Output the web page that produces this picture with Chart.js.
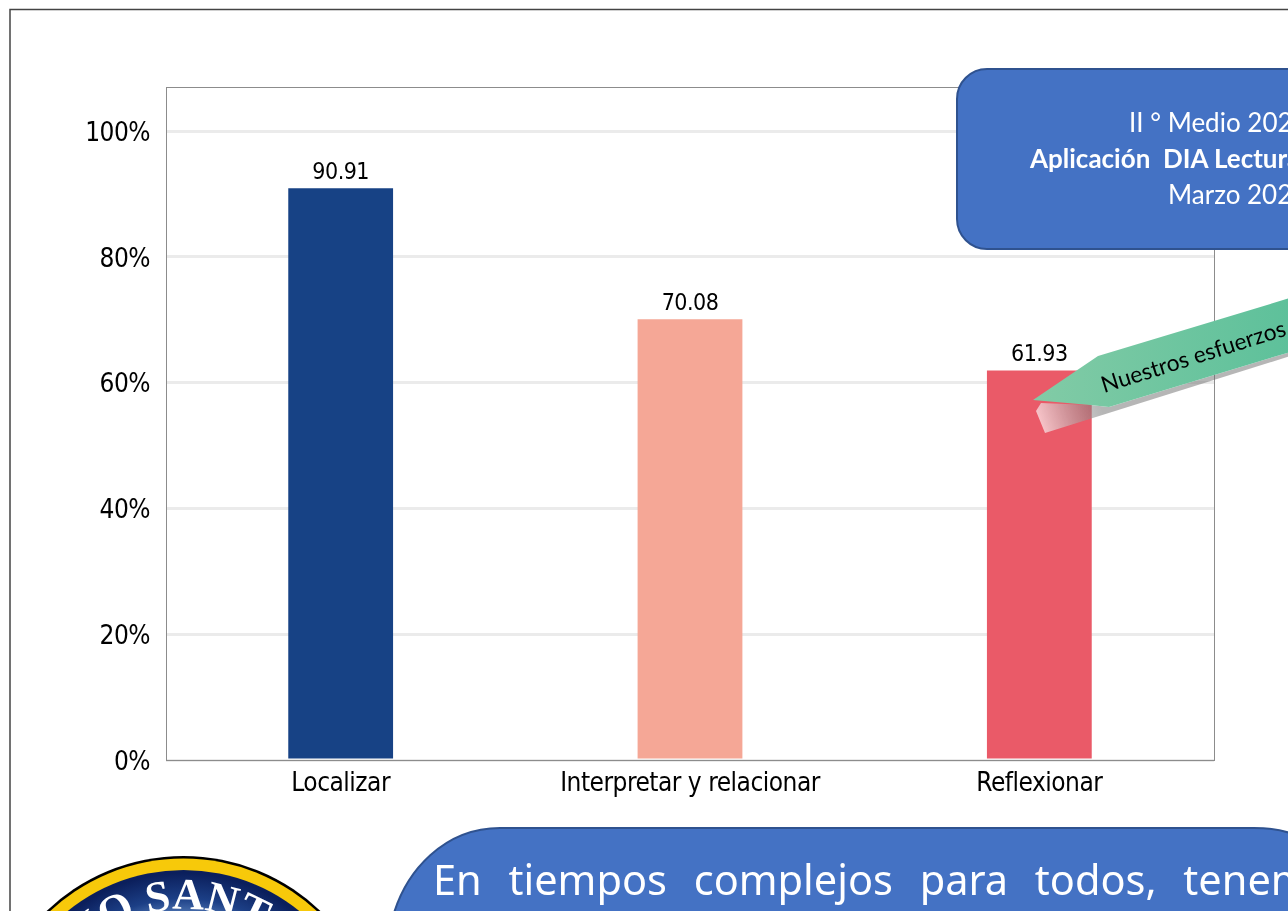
<!DOCTYPE html>
<html>
<head>
<meta charset="utf-8">
<title>Aplicación DIA Lectura</title>
<script src="https://cdn.jsdelivr.net/npm/chart.js@4"></script>
<style>
  html, body { margin: 0; padding: 0; background: #fff; overflow: hidden; }
  #stage { position: relative; width: 1288px; height: 911px; overflow: hidden; }
  #resultChart { position: absolute; left: 0; top: 0; }
  #overlay { position: absolute; left: 0; top: 0; }
</style>
</head>
<body>
<div id="stage">
  <canvas id="resultChart" width="1288" height="911"></canvas>

  <svg id="overlay" width="1288" height="911" xmlns="http://www.w3.org/2000/svg">
    <defs>
      <linearGradient id="arrowFill" x1="0" y1="0" x2="1" y2="0">
        <stop offset="0" stop-color="#82CBA6"/>
        <stop offset="1" stop-color="#5CC09A"/>
      </linearGradient>
      <linearGradient id="shadowFill" gradientUnits="userSpaceOnUse" x1="1040" y1="425" x2="1100" y2="405">
        <stop offset="0" stop-color="#ffffff" stop-opacity="0.65"/>
        <stop offset="1" stop-color="#6e6e6e" stop-opacity="0.5"/>
      </linearGradient>
      <radialGradient id="badgeFill" gradientUnits="userSpaceOnUse" cx="183.5" cy="1054" r="181">
        <stop offset="0.75" stop-color="#5b82bd"/>
        <stop offset="0.86" stop-color="#1c3f86"/>
        <stop offset="1" stop-color="#0b1f5c"/>
      </radialGradient>
      <path id="badgeArc" d="M 183.5 1199 A 145 145 0 0 1 183.5 909 A 145 145 0 0 1 183.5 1199"/>
    </defs>

    <!-- slide frame -->
    <path d="M 10 920 L 10 9.5 L 1295 9.5" fill="none" stroke="#444" stroke-width="1.5"/>

    <!-- header box -->
    <rect x="957" y="69" width="420" height="180" rx="30" ry="30" fill="#4472C4" stroke="#2F528F" stroke-width="2"/>
    <g font-family="Lato" font-size="26" fill="#fff">
      <text x="1129" y="132">II ° Medio 2021</text>
      <text x="1030" y="168" font-weight="bold" xml:space="preserve">Aplicación  DIA Lectura</text>
      <text x="1168" y="204">Marzo 2021</text>
    </g>

    <!-- arrow note -->
    <polygon points="1036,411 1045,433 1300,353 1300,349 1109,407 1090,405 1041,403" fill="url(#shadowFill)"/>
    <polygon points="1033,400 1098,356 1300,295 1300,349 1109,407 1090,405" fill="url(#arrowFill)"/>
    <text transform="translate(1104,393) rotate(-17.5)" font-family="Lato" font-size="22.8" fill="#000">Nuestros esfuerzos deben</text>

    <!-- school badge -->
    <circle cx="183.5" cy="1054" r="198" fill="#000"/>
    <circle cx="183.5" cy="1054" r="195.5" fill="#F7C90A"/>
    <circle cx="183.5" cy="1054" r="184" fill="url(#badgeFill)"/>
    <text font-family="Liberation Serif" font-size="44" font-weight="bold" fill="#fff">
      <textPath href="#badgeArc" startOffset="198">COLEGIO SANTA</textPath>
    </text>

    <!-- bottom box -->
    <path d="M 392 920 C 405 870 445 828 500 828 L 1254 828 Q 1285 828 1300 838 L 1300 920 Z" fill="#4472C4" stroke="#2F528F" stroke-width="2"/>
    <text x="433" y="895" font-family="Noto Sans" font-size="41.5" fill="#fff" word-spacing="16">En tiempos complejos para todos, tenemos</text>
  </svg>
</div>

<script>
// DATA

const categories = ['Localizar', 'Interpretar y relacionar', 'Reflexionar'];
const values = [90.91, 70.08, 61.93];
const barColors = ['#174285', '#F5A796', '#EA5A68'];
const yMax = 107;
const yStep = 20;

const chartFont = '"DejaVu Sans Condensed", "DejaVu Sans", sans-serif';


// VALUE LABELS AND PLOT BORDER

const plotExtras = {
    id: 'plotExtras',

    // the original text is squeezed, tighten it a bit
    beforeDraw(chart) {
        chart.ctx.letterSpacing = '-0.5px';
    },

    afterDatasetsDraw(chart) {
        const ctx = chart.ctx;
        const area = chart.chartArea;

        ctx.save();
        ctx.strokeStyle = '#8c8c8c';
        ctx.lineWidth = 1;
        ctx.strokeRect(area.left + 0.5, area.top + 0.5, area.width, area.height);

        ctx.fillStyle = '#000';
        ctx.font = '23px ' + chartFont;
        ctx.textAlign = 'center';
        ctx.textBaseline = 'bottom';

        chart.getDatasetMeta(0).data.forEach((bar, i) => {
            ctx.fillText(values[i].toFixed(2), bar.x, bar.y - 4);
        });

        ctx.restore();
    }
};


// CHART.JS

new Chart(document.getElementById('resultChart'), {
    type: 'bar',

    data: {
        labels: categories,

        datasets: [{
            data: values,
            backgroundColor: barColors,
            borderWidth: 0,
            barPercentage: 0.3,
            categoryPercentage: 1
        }]
    },

    options: {
        responsive: false,
        animation: false,

        layout: {
            padding: { top: 87, right: 74, left: 0, bottom: 0 }
        },

        plugins: {
            legend: { display: false },
            tooltip: { enabled: false }
        },

        scales: {
            x: {
                grid: { display: false },
                border: { display: false },
                ticks: {
                    color: '#000',
                    font: { family: chartFont, size: 26 },
                    maxRotation: 0,
                    padding: 1
                },
                afterFit(scale) { scale.height = 151; }
            },

            y: {
                min: 0,
                max: yMax,
                grid: { color: '#ebebeb', lineWidth: 3, drawTicks: false },
                border: { display: false },
                ticks: {
                    stepSize: yStep,
                    includeBounds: false,
                    color: '#000',
                    font: { family: chartFont, size: 26 },
                    padding: 16,
                    labelOffset: 3,
                    callback: value => value + '%'
                },
                afterFit(scale) { scale.width = 166; }
            }
        }
    },

    plugins: [plotExtras]
});
</script>
</body>
</html>
